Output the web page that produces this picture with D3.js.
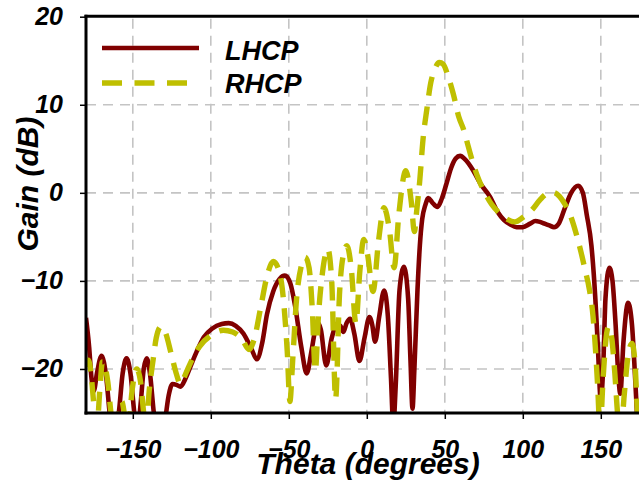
<!DOCTYPE html>
<html>
<head>
<meta charset="utf-8">
<script src="https://cdn.jsdelivr.net/npm/d3@7"></script>
<style>
html,body{margin:0;padding:0;background:#fff;}
svg{display:block;}
text{font-family:"Liberation Sans",Arial,sans-serif;font-weight:bold;font-style:italic;fill:#000;}
</style>
</head>
<body>
<svg id="chart" width="639" height="493"></svg>
<script>
// ---- data ----
const xTicks = [-150, -100, -50, 0, 50, 100, 150];
const yTicks = [-20, -10, 0, 10, 20];
const seriesNames = ["LHCP", "RHCP"];

const lhcpTheta = [-180,-178,-176.5,-175,-173,-170,-167,-164.5,-162,-159,-156.5,-154,-151.5,-149,-147,-145,-143,-141,-139,-136.5,-133,-129.5,-127,-124.5,-122,-119.5,-116,-113,-109,-104.5,-99,-93,-88.5,-84,-79,-74,-70.5,-67,-64,-60,-56,-52.5,-49,-46,-42,-38.5,-35.5,-33,-31.5,-29.5,-26,-22.5,-19,-17,-15,-13,-10.7,-8,-4.7,-1.5,1.7,3.5,5.3,8,11.1,13.5,15.5,17,18.5,21,23.8,26.5,28,29.3,30.5,32.5,34,35.5,37.5,39.5,42,45.3,48,51,54,57,59.8,63,68,73,79,84,88,92,96,100,104.7,108,111,114,117,120,123,127,131,135.5,138.5,141,144,146.5,148,150,151.5,153,155.5,157.5,159.5,161,162.5,164.5,167.5,170,172,173.5,176,180];
const lhcpGain  = [-14.2,-17.5,-21,-22.5,-20.5,-18.5,-21,-25.5,-27,-25,-20.5,-18.8,-20.5,-25,-27,-24,-20,-18.8,-20.5,-25,-28,-26,-23,-21.7,-21.8,-22,-21,-19.7,-18,-16.4,-15.4,-14.9,-14.8,-15.1,-16,-17.7,-18.9,-17,-13.8,-11.2,-9.8,-9.4,-10.3,-12.8,-17.5,-20.5,-18,-15.5,-14.7,-15.5,-19.6,-16.5,-14.9,-15.1,-15.8,-14.8,-14.3,-16,-19.1,-16.5,-14.1,-15,-16.9,-14,-11.1,-14,-21,-26.5,-22,-11,-8.4,-12,-19,-24.5,-20,-11,-6,-3,-1.4,-0.6,-1.1,-1.6,-0.7,1,2.8,3.9,4.2,3.8,2.6,1.0,-0.45,-2.2,-3.1,-3.6,-3.9,-3.9,-3.5,-3.2,-3.3,-3.5,-3.7,-3.9,-3.5,-1.7,0.0,0.8,0.0,-2.5,-6,-12,-17,-23.5,-20,-12,-8.5,-10,-15,-20,-22.8,-17,-12.5,-15,-21,-26,-30,-22];

const rhcpTheta = [-180,-178.5,-176.5,-175,-173,-171,-169.5,-166,-164,-162,-159.5,-157,-155,-153,-150.5,-147.5,-145,-143,-141.5,-139.5,-137,-135,-132,-129,-125.5,-122,-119.5,-116,-113,-107,-100,-92,-86,-80,-75.5,-72,-68,-64,-60,-56.5,-53.5,-51,-49.3,-47.5,-45,-42,-39.5,-37,-35,-33,-31,-28,-25,-22.5,-20,-17.5,-15,-12.8,-10,-7,-4.5,-2,0.5,4,7.5,11,14.5,17.5,20.5,25,28.5,30.5,32,34,36,38.5,41,43.5,46.5,49,52,55.5,59,62,65,68,72,76,80,85,90,95,100,106,111,115.5,119.6,123.5,127,131,134,137,140,142.5,145,146.5,148,149.5,151.5,153.5,155,157,159,161,163,165,167.5,170,172,173.5,175,180];
const rhcpGain  = [-19.8,-19,-21,-24,-26.5,-22,-19.2,-21.5,-25,-27,-25.5,-23.7,-25.5,-27,-22.5,-20,-21.5,-25,-27,-22.5,-19,-16.5,-15.2,-15.9,-18.2,-20.6,-21.7,-20.5,-19.3,-17.4,-16.2,-15.6,-15.8,-16.6,-17.8,-16.5,-13,-9.5,-7.8,-8.7,-12,-18,-23.7,-19,-12,-8.3,-7.3,-8.5,-13,-20.2,-14,-8.5,-6.4,-10,-23.4,-11.5,-7,-6,-8.5,-14.8,-9,-5.3,-7,-11.2,-5.5,-1.7,-4.2,-8.5,-2.5,2.5,-1,-4.4,-2.0,1.5,6,9.5,12.5,14,14.8,14.6,13.3,11.2,8.6,7.2,5.3,3.4,1.4,-0.1,-1.3,-2.3,-3.0,-3.3,-2.8,-1.9,-0.8,-0.1,0.05,-0.4,-1.3,-2.8,-4.5,-6.5,-8.8,-10.8,-14,-17.5,-22,-27,-21,-16.3,-15.2,-16.5,-20.5,-25.5,-27,-23,-18.5,-17.1,-19.5,-25,-28,-28];

// ---- layout ----
const svg = d3.select("#chart");
const pLeft = 86, pRight = 647.6, pTop = 16.7, pBottom = 413;
const x = d3.scaleLinear().domain([-180, 180]).range([pLeft, pRight]);
const y = d3.scaleLinear().domain([-25, 20]).range([pBottom, pTop]);

svg.append("defs").append("clipPath").attr("id", "plotclip")
  .append("rect").attr("x", pLeft).attr("y", pTop).attr("width", pRight - pLeft).attr("height", pBottom - pTop);

// grid
const grid = svg.append("g").attr("stroke", "#c4c4c4").attr("stroke-width", 1.6).attr("stroke-dasharray", "10,7");
grid.selectAll("line.v").data(xTicks).enter().append("line").attr("class", "v")
  .attr("x1", d => x(d)).attr("x2", d => x(d)).attr("y1", pTop + 2).attr("y2", pBottom);
grid.selectAll("line.h").data(yTicks.filter(d => d < 20)).enter().append("line").attr("class", "h")
  .attr("x1", pLeft).attr("x2", pRight).attr("y1", d => y(d)).attr("y2", d => y(d));

// curves
const line = d3.line().x(d => x(d[0])).y(d => y(d[1])).curve(d3.curveMonotoneX);
const lhcp = lhcpTheta.map((t, i) => [t, lhcpGain[i]]);
const rhcp = rhcpTheta.map((t, i) => [t, rhcpGain[i]]);
const plot = svg.append("g").attr("clip-path", "url(#plotclip)");
plot.append("path").datum(lhcp).attr("d", line)
  .attr("fill", "none").attr("stroke", "#800000").attr("stroke-width", 4.6).attr("stroke-linejoin", "round");
plot.append("path").datum(rhcp).attr("d", line)
  .attr("fill", "none").attr("stroke", "#bfbf00").attr("stroke-width", 5.4).attr("stroke-dasharray", "19,11");

// axes
const xAxis = d3.axisBottom(x).tickValues(xTicks).tickSize(6).tickPadding(21).tickFormat(d3.format("d"));
const yAxis = d3.axisLeft(y).tickValues(yTicks).tickSize(6).tickPadding(17).tickFormat(d3.format("d"));
const gx = svg.append("g").attr("transform", `translate(0,${pBottom})`).call(xAxis);
const gy = svg.append("g").attr("transform", `translate(${pLeft},0)`).call(yAxis);
[gx, gy].forEach(g => {
  g.select(".domain").remove();
  g.selectAll(".tick line").attr("stroke", "#000").attr("stroke-width", 1.5);
  g.selectAll(".tick text").style("font-size", "25px").style("font-weight", "bold").style("font-style", "italic")
    .style("font-family", "'Liberation Sans', Arial, sans-serif").attr("fill", "#000");
});

// frame lines
svg.append("line").attr("x1", pLeft).attr("x2", pLeft).attr("y1", pTop - 2).attr("y2", pBottom + 1.5)
  .attr("stroke", "#000").attr("stroke-width", 3);
svg.append("line").attr("x1", pLeft - 1.5).attr("x2", 639).attr("y1", pBottom).attr("y2", pBottom)
  .attr("stroke", "#000").attr("stroke-width", 3);
svg.append("line").attr("x1", pLeft - 1.5).attr("x2", 639).attr("y1", pTop - 0.5).attr("y2", pTop - 0.5)
  .attr("stroke", "#000").attr("stroke-width", 3);

// axis titles
svg.append("text").attr("x", 368).attr("y", 474).attr("text-anchor", "middle")
  .style("font-size", "30px").text("Theta (degrees)");
svg.append("text").attr("transform", "translate(38,184) rotate(-90)").attr("text-anchor", "middle")
  .style("font-size", "30px").text("Gain (dB)");

// legend
const legend = svg.append("g");
legend.append("line").attr("x1", 102).attr("x2", 199).attr("y1", 48).attr("y2", 48)
  .attr("stroke", "#800000").attr("stroke-width", 4.6);
legend.append("line").attr("x1", 102).attr("x2", 187).attr("y1", 83).attr("y2", 83)
  .attr("stroke", "#bfbf00").attr("stroke-width", 5.6).attr("stroke-dasharray", "20,12.5");
legend.append("text").attr("x", 225).attr("y", 60).style("font-size", "27px").text(seriesNames[0]);
legend.append("text").attr("x", 225).attr("y", 93).style("font-size", "27px").text(seriesNames[1]);
</script>
</body>
</html>
